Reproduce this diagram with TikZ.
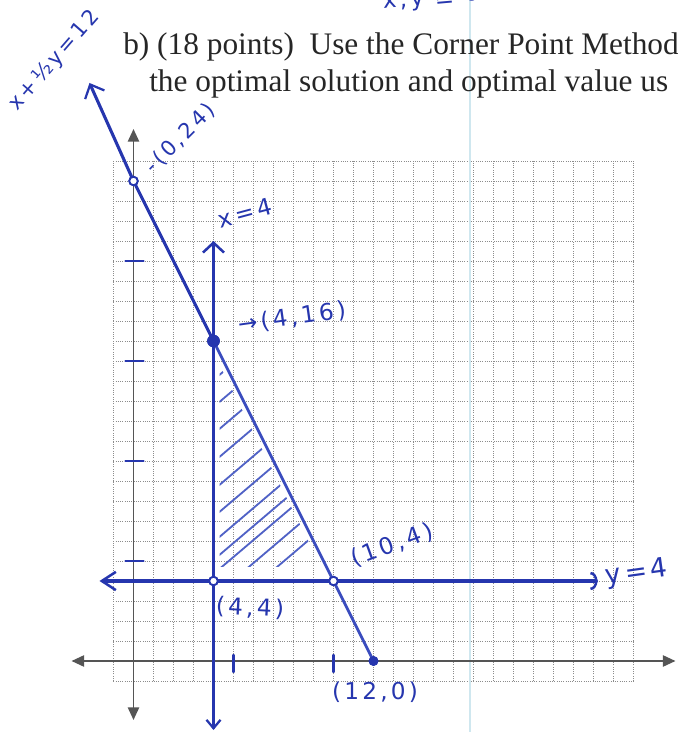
\documentclass[tikz,border=0pt]{standalone}
\usepackage{fontspec}
\setmainfont{Liberation Serif}
\newfontfamily\handfont[LetterSpace=14]{DejaVu Sans}
\usetikzlibrary{arrows.meta,positioning}
\definecolor{inkblue}{HTML}{2636AE}
\definecolor{inkmid}{HTML}{3A4CBE}
\definecolor{hatchblue}{HTML}{5062C6}
\definecolor{axisgray}{HTML}{555555}
\definecolor{gridgray}{HTML}{8C8C8C}
\definecolor{foldcyan}{HTML}{CFE7EF}

\begin{document}
\begin{tikzpicture}[x=0.5cm,y=0.5cm,
  gridline/.style={gridgray,densely dotted,line width=0.6pt},
  foldline/.style={foldcyan,line width=1.4pt},
  axis/.style={axisgray,line width=1.3pt,{Triangle[length=9pt,width=8pt]}-{Triangle[length=9pt,width=8pt]}},
  barb/.tip={Straight Barb[length=8pt,width=15pt,line width=1.6pt]},
  inkline/.style={inkblue,line width=2.4pt,line cap=round},
  hatch/.style={hatchblue,line width=1.3pt,line cap=round},
  tickmark/.style={inkblue,line width=1.7pt,line cap=round},
  opendot/.style={circle,draw=inkblue,fill=white,line width=1.3pt,inner sep=0pt,minimum size=6pt},
  fulldot/.style={circle,draw=inkblue,fill=inkblue,inner sep=0pt,minimum size=8.5pt},
  hand/.style={inkblue,font=\handfont\fontsize{16.5}{19}\selectfont,inner sep=0pt},
  print/.style={black!85,font=\fontsize{22.3}{26}\selectfont,inner sep=0pt,anchor=base west}
]
\useasboundingbox (-6.675,-3.55) rectangle (27.225,33.05);
\clip (-6.675,-3.55) rectangle (27.225,33.05);
% graph paper and page fold
\draw[gridline,step=0.5cm] (-1,-1) grid (25,25);
\draw[foldline] (16.83,-3.55) -- (16.83,33.05);
% printed axes
\coordinate (xl) at (-3.1,0);
\coordinate (xr) at (27.1,0);
\coordinate (yb) at (0,-2.95);
\coordinate (yt) at (0,26.6);
\draw[axis] (xl) -- (xr);
\draw[axis] (yb) -- (yt);
% feasible region hatching
\begin{scope}
  \clip (4.3,4.7) -- (4.3,14.8) -- (9.4,4.7) -- cycle;
  \foreach \c in {2.0,3.2,4.35,5.05,5.95,7.2,8.55,9.95,11.35,12.7,14.05}
    \draw[hatch] (4,\c) -- ++(8,6.8);
\end{scope}
% corner points
\node[opendot] (p024) at (0,24) {};
\node[fulldot] (p416) at (4,16) {};
\node[opendot] (p104) at (10,4) {};
\node[opendot] (p44) at (4,4) {};
\node[fulldot,minimum size=6.5pt] (p120) at (12,0) {};
% constraint lines
\coordinate (ltop) at (-2.2,28.9);
\coordinate (vtop) at (4,21.0);
\coordinate (vbot) at (4,-3.45);
\coordinate (hleft) at (-1.7,4);
\coordinate (hright) at (23.2,4);
\draw[inkline,line width=2.8pt,{Straight Barb[length=7pt,width=15pt,line width=1.8pt]}-{Straight Barb[length=6pt,width=10pt,line width=1.6pt]}] (vtop) -- (vbot);
\draw[inkline,{Straight Barb[length=10pt,width=13pt,line width=1.8pt]}-{Arc Barb[length=5pt,width=13pt,line width=1.8pt]}] (hleft) -- (hright);
\draw[inkmid,line width=2pt,line cap=round] (p120.center) -- (p104.center) -- (p416.center);
\draw[inkline,line width=2.2pt,-barb] (p416.center) -- (p024.center) -- (ltop);
% redraw dots over the lines
\node[opendot] at (p024) {};
\node[fulldot] at (p416) {};
\node[opendot] at (p104) {};
\node[opendot] at (p44) {};
\node[fulldot,minimum size=6.5pt] at (p120) {};
% hand ticks
\foreach \t in {5,10,15,20}
  \draw[tickmark] (-0.4,\t) -- (0.5,\t);
\foreach \t in {5,10}
  \draw[tickmark] (\t,0.3) -- (\t,-0.55);
% handwritten labels
\node[hand,rotate=49,font=\handfont\fontsize{15}{18}\selectfont] (lbldiag) at (-3.95,30.0) {x+½y=12};
\node[hand,rotate=45,font=\handfont\fontsize{15}{18}\selectfont] (lbl024) at (2.35,26.15) {-(0,24)};
\node[hand,rotate=15] (lblvert) at (5.575,22.4) {x=4};
\node[hand,rotate=8] (lbl416) at (7.925,17.15) {→(4,16)};
\node[hand,rotate=20] (lbl104) at (12.925,5.8) {(10,4)};
\node[hand,rotate=-3] (lbl44) at (5.825,2.65) {(4,4)};
\node[hand] (lbl120) at (12.075,-1.55) {(12,0)};
\node[hand,rotate=8,anchor=west,font=\handfont\fontsize{19}{22}\selectfont] (lblhor) at (23.6,4.15) {y=4};
\node[hand,rotate=5,anchor=base west] (lblsign) at (12.475,32.6) {x,y ≥ 0};
% printed question text
\node[print] (qline1) at (-0.525,30.3) {b) (18 points)\ \ Use the Corner Point Method};
\node[print] (qline2) at (0.775,28.45) {the optimal solution and optimal value us};
\end{tikzpicture}
\end{document}
